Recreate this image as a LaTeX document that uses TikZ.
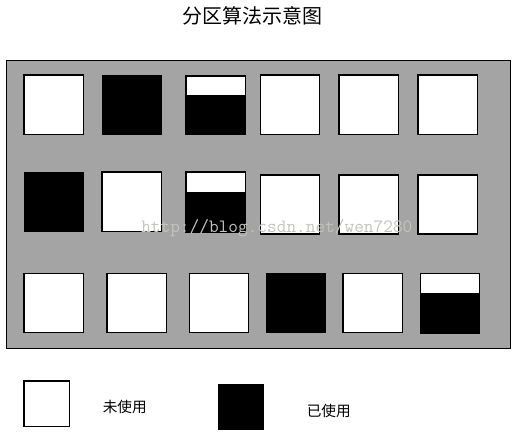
\documentclass[tikz,border=0pt]{standalone}
\usepackage{fontspec}
\newfontfamily\cjk{Noto Sans CJK SC}
\definecolor{panelgray}{RGB}{164,164,164}
\definecolor{wmcolor}{RGB}{196,196,190}
\tikzset{
  freebox/.style={draw=black, line width=0.85pt, fill=white},
  usedbox/.style={fill=black},
  panel/.style={draw=black, line width=0.8pt, fill=panelgray},
}
\begin{document}
\begin{tikzpicture}[x=0.75pt,y=-0.75pt]
\useasboundingbox (0,0) rectangle (523,432);
\node[font=\cjk\fontsize{15}{18}\selectfont] (title) at (252,15.5) {分区算法示意图};
\draw[panel] (6.5,60.5) rectangle (510.5,348.5);
% row 1
\draw[freebox] (24,75) rectangle (83.7,134.3);
\fill[usedbox] (102,75) rectangle (162,135);
\fill[usedbox] (186,96) rectangle (245.7,134.7);
\draw[freebox] (186,76) rectangle (245.7,96);
\draw[line width=0.85pt] (186,76) rectangle (245.7,134.7);
\draw[freebox] (260.5,75) rectangle (319.7,134.3);
\draw[freebox] (339,75) rectangle (398.7,134.3);
\draw[freebox] (418,75) rectangle (477.7,134.3);
% row 2
\fill[usedbox] (24,172) rectangle (84,231.7);
\draw[freebox] (102,172) rectangle (161.7,231.7);
\fill[usedbox] (186,193) rectangle (245.7,232);
\draw[freebox] (186,172) rectangle (245.7,193);
\draw[line width=0.85pt] (186,172) rectangle (245.7,232);
\draw[freebox] (260.5,175) rectangle (319.7,234);
\draw[freebox] (339,175) rectangle (398.7,234);
\draw[freebox] (418,175) rectangle (477.7,234);
% row 3
\draw[freebox] (24,273.3) rectangle (83.7,332.3);
\draw[freebox] (107,273.3) rectangle (166.3,332.3);
\draw[freebox] (189.3,273.3) rectangle (248.3,332.3);
\fill[usedbox] (266,273) rectangle (326,333);
\draw[freebox] (343,273.3) rectangle (402.7,332.3);
\fill[usedbox] (420.3,294) rectangle (479.7,333);
\draw[freebox] (420.3,273.3) rectangle (479.7,294);
\draw[line width=0.85pt] (420.3,273.3) rectangle (479.7,333);
% watermark
\node[font=\ttfamily\fontsize{14.1}{16}\selectfont, text=wmcolor, anchor=west, inner sep=0pt] (wm) at (141,228) {http://blog.csdn.net/wen7280};
% legend
\draw[freebox] (24,381) rectangle (69.3,426.7);
\node[font=\cjk\fontsize{11}{13}\selectfont, anchor=west, inner sep=0pt] (free) at (102.5,406.7) {未使用};
\fill[usedbox] (218,384) rectangle (263.7,430);
\node[font=\cjk\fontsize{11}{13}\selectfont, anchor=west, inner sep=0pt] (used) at (306.5,410.7) {已使用};
\end{tikzpicture}
\end{document}
